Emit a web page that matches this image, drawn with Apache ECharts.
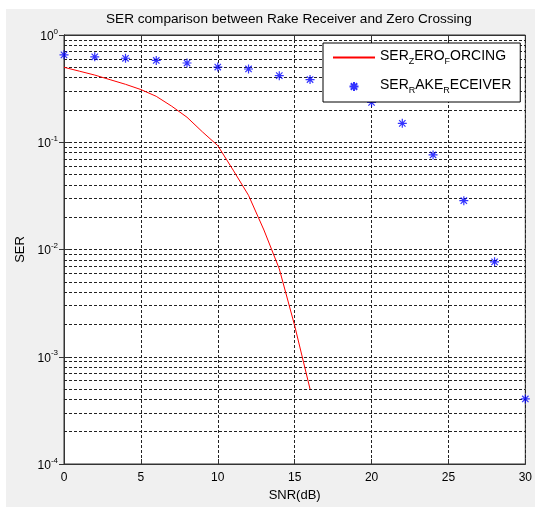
<!DOCTYPE html>
<html>
<head>
<meta charset="utf-8">
<script src="https://cdn.jsdelivr.net/npm/echarts@6/dist/echarts.min.js"></script>
<style>
  html, body { margin: 0; padding: 0; background: #fff; }
  #bg { position: absolute; left: 6px; top: 9px; width: 529px; height: 498px; background: #f0f0f0; }
  #charts { position: absolute; left: 0; top: 0; width: 535px; height: 507px; }
</style>
</head>
<body>
<div id="bg"></div>
<div id="charts"></div>
<script>
// zero forcing curve, 1 dB steps
let zfSnr = [0, 1, 2, 3, 4, 5, 6, 7, 8, 9, 10, 11, 12, 13, 14, 15, 16];
let zfSer = [0.5, 0.46, 0.423, 0.383, 0.347, 0.31, 0.268, 0.217, 0.171, 0.125,
  0.093, 0.055, 0.032, 0.0152, 0.0066, 0.00195, 0.0005];
// rake receiver points, 2 dB steps
let rakeSnr = [0, 2, 4, 6, 8, 10, 12, 14, 16, 18, 20, 22, 24, 26, 28, 30];
let rakeSer = [0.653, 0.626, 0.607, 0.579, 0.548, 0.503, 0.482, 0.418, 0.384,
  0.32, 0.235, 0.15, 0.0762, 0.0285, 0.00767, 0.000404];
let decades = [-4, -3, -2, -1];
let minorSteps = [2, 3, 4, 5, 6, 7, 8, 9];

let chartDom = document.getElementById("charts");
let myChart = echarts.init(chartDom);
let option;

// dashed minor grid lines 2..9 x 10^k
let minorLines = [];
decades.forEach(function (d) {
  minorSteps.forEach(function (m) {
    minorLines.push({ yAxis: m * Math.pow(10, d) });
  });
});

let gridLine = { show: true, lineStyle: { color: "#222", type: [3, 2], width: 1 } };
let font = "Liberation Sans, Arial, sans-serif";
let star = "path://M-7,-7M7,7M0,-4.5L0,4.5M-4.5,0L4.5,0M-3.2,-3.2L3.2,3.2M-3.2,3.2L3.2,-3.2";

let legendNames = {
  SER_ZERO_FORCING: "{b|SER}{s|Z}{b|ERO}{s|F}{b|ORCING}",
  SER_RAKE_RECEIVER: "{b|SER}{s|R}{b|AKE}{s|R}{b|ECEIVER}",
};

option = {
  animation: false,
  textStyle: { fontFamily: font },
  title: {
    text: "SER comparison between Rake Receiver and Zero Crossing",
    left: 106,
    top: 12,
    padding: 0,
    textStyle: { fontFamily: font, fontSize: 13.6, fontWeight: "normal", color: "#000" },
  },
  legend: {
    orient: "vertical",
    left: 323,
    top: 43,
    padding: [6, 9, 7, 9],
    itemGap: 12,
    itemWidth: 42,
    itemHeight: 14,
    backgroundColor: "#fff",
    borderColor: "#000",
    borderWidth: 1,
    borderRadius: 0,
    data: ["SER_ZERO_FORCING", "SER_RAKE_RECEIVER"],
    formatter: function (name) {
      return legendNames[name];
    },
    textStyle: {
      fontFamily: font,
      color: "#000",
      rich: {
        b: { fontSize: 14, fontFamily: font, verticalAlign: "top", color: "#000" },
        s: { fontSize: 9, fontFamily: font, padding: [8, 0, 0, 0], verticalAlign: "top", color: "#000" },
      },
    },
  },
  grid: {
    left: 64,
    right: 8,
    top: 35,
    bottom: 39,
    show: true,
    backgroundColor: "#fff",
    borderColor: "#333",
    borderWidth: 1,
  },
  xAxis: [
    {
      type: "value",
      min: 0,
      max: 30,
      interval: 5,
      name: "SNR(dB)",
      nameLocation: "middle",
      nameGap: 25,
      nameTextStyle: { fontFamily: font, fontSize: 13, color: "#000" },
      axisLine: { show: true, onZero: false, lineStyle: { color: "#333" } },
      axisTick: { show: true, inside: true, length: 5, lineStyle: { color: "#333" } },
      axisLabel: { fontFamily: font, fontSize: 12, color: "#000", margin: 8 },
      splitLine: gridLine,
    },
    {
      type: "value",
      position: "top",
      min: 0,
      max: 30,
      interval: 5,
      axisLine: { show: true, lineStyle: { color: "#333" } },
      axisTick: { show: true, inside: true, length: 5, lineStyle: { color: "#333" } },
      axisLabel: { show: false },
      splitLine: { show: false },
    },
  ],
  yAxis: [
    {
      type: "log",
      logBase: 10,
      min: 1e-4,
      max: 1,
      interval: 1,
      name: "SER",
      nameLocation: "middle",
      nameGap: 35,
      nameTextStyle: { fontFamily: font, fontSize: 13, color: "#000" },
      axisLine: { show: true, lineStyle: { color: "#333" } },
      axisTick: { show: true, inside: true, length: 5, lineStyle: { color: "#333" } },
      axisLabel: {
        fontFamily: font,
        margin: 6,
        formatter: function (v) {
          return "{b|10}{p|" + Math.round(Math.log10(v)) + "}";
        },
        rich: {
          b: { fontSize: 12, fontFamily: font, color: "#000", verticalAlign: "bottom" },
          p: { fontSize: 8, fontFamily: font, color: "#000", padding: [0, 0, 7, 0], verticalAlign: "bottom" },
        },
      },
      splitLine: gridLine,
    },
    {
      type: "log",
      logBase: 10,
      min: 1e-4,
      max: 1,
      interval: 1,
      position: "right",
      axisLine: { show: true, lineStyle: { color: "#333" } },
      axisTick: { show: true, inside: true, length: 5, lineStyle: { color: "#333" } },
      axisLabel: { show: false },
      splitLine: { show: false },
    },
  ],
  series: [
    {
      name: "SER_ZERO_FORCING",
      type: "line",
      symbol: "none",
      lineStyle: { color: "#ff0000", width: 1 },
      // transparent item colour hides the legend marker, the line keeps its red
      itemStyle: { color: "rgba(255,0,0,0)" },
      data: zfSnr.map(function (x, i) {
        return [x, zfSer[i]];
      }),
      markLine: {
        silent: true,
        symbol: "none",
        animation: false,
        precision: 8,
        label: { show: false },
        lineStyle: { color: "#222", type: [3, 2], width: 1 },
        z: 1,
        data: minorLines,
      },
      z: 3,
    },
    {
      name: "SER_RAKE_RECEIVER",
      type: "scatter",
      symbol: star,
      symbolSize: 14,
      itemStyle: { color: "#0000ff", borderColor: "#0000ff", borderWidth: 1.2 },
      data: rakeSnr.map(function (x, i) {
        return [x, rakeSer[i]];
      }),
      z: 3,
    },
  ],
};

option && myChart.setOption(option);
</script>
</body>
</html>
